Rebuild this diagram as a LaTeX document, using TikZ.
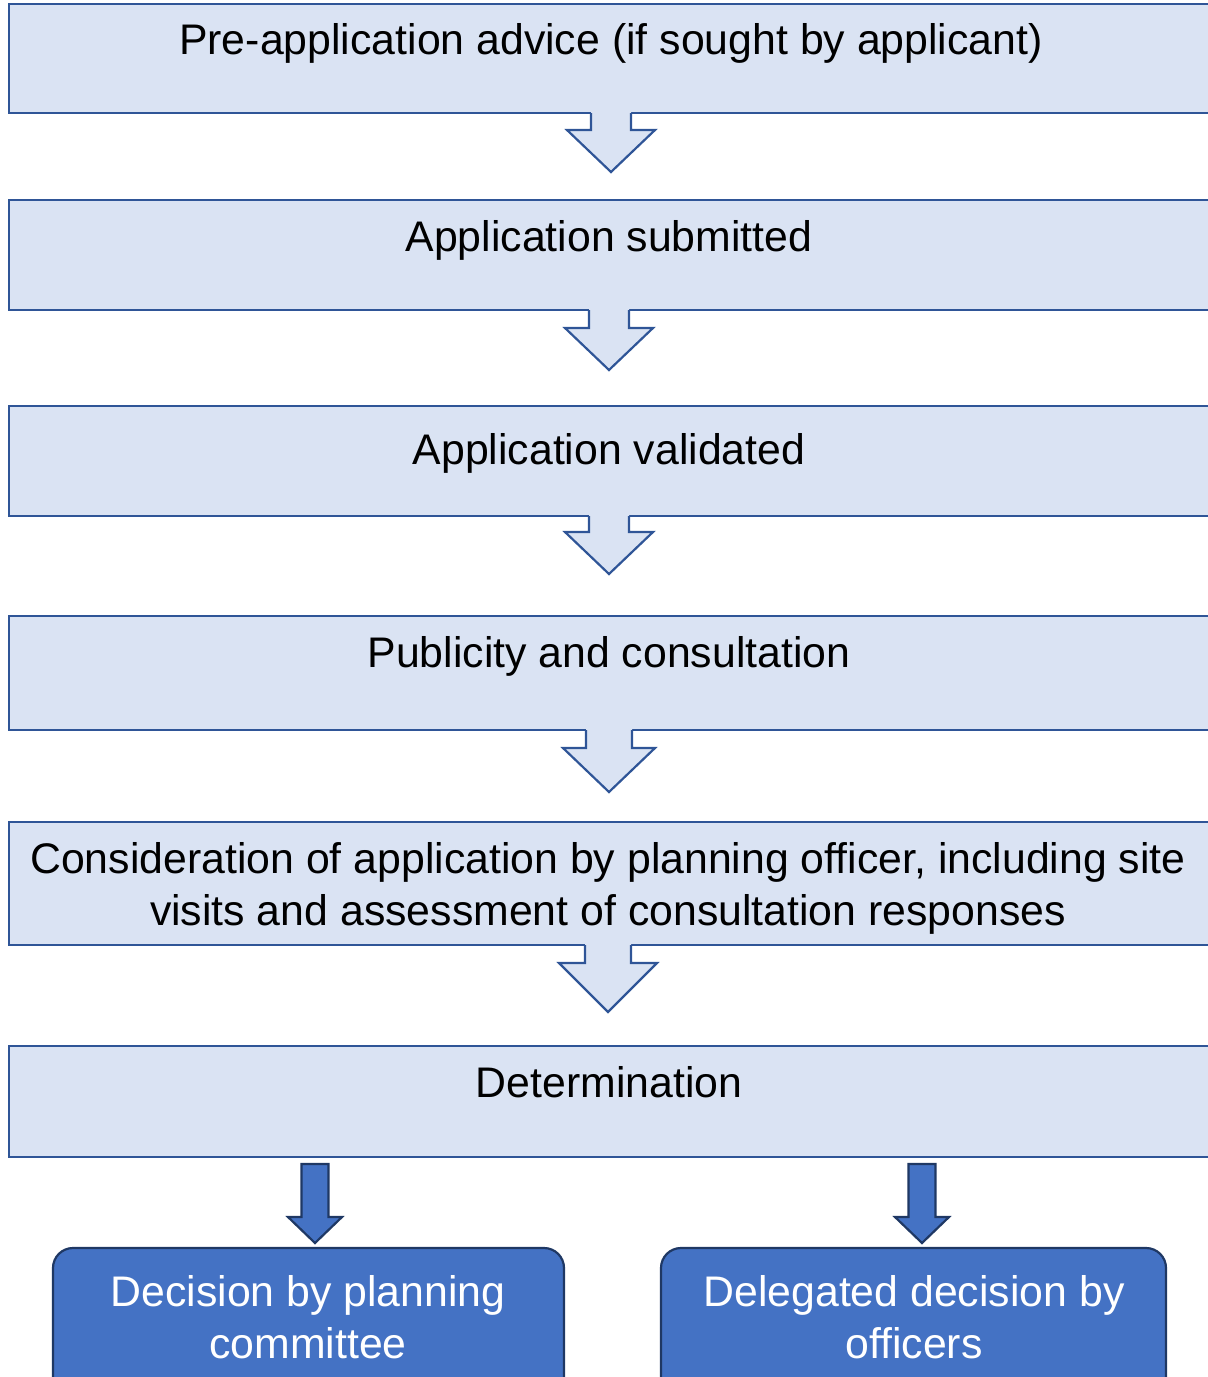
\documentclass[tikz,border=0pt]{standalone}
\usepackage{fontspec}
\setmainfont{Liberation Sans}
\definecolor{lightfill}{HTML}{DAE3F3}
\definecolor{lightline}{HTML}{2F5597}
\definecolor{darkfill}{HTML}{4472C4}
\definecolor{darkline}{HTML}{1F3864}
\tikzset{
  stagebox/.style={draw=lightline, fill=lightfill, line width=2.2pt},
  stagetext/.style={anchor=base, font=\fontsize{42.8}{53}\selectfont, text=black, inner sep=0pt},
  decbox/.style={draw=darkline, fill=darkfill, line width=2.2pt, rounded corners=20pt},
  dectext/.style={anchor=base, font=\fontsize{42.8}{53}\selectfont, text=white, inner sep=0pt},
  hollowarrow/.style={fill=lightfill},
  hollowline/.style={draw=lightline, line width=2.2pt, line join=miter},
  solidarrow/.style={draw=darkline, fill=darkfill, line width=2.2pt, line join=miter},
}
% #1 x, #2 top, #3 stem bottom, #4 tip, #5 half stem, #6 half head
\newcommand\holarrow[6]{%
  \fill[hollowarrow] (#1-#5,#2-2) -- (#1-#5,#3) -- (#1-#6,#3) -- (#1,#4) -- (#1+#6,#3) -- (#1+#5,#3) -- (#1+#5,#2-2) -- cycle;
  \draw[hollowline] (#1-#5,#2) -- (#1-#5,#3) -- (#1-#6,#3) -- (#1,#4) -- (#1+#6,#3) -- (#1+#5,#3) -- (#1+#5,#2);
}
\newcommand\solarrow[6]{%
  \draw[solidarrow] (#1-#5,#2) -- (#1-#5,#3) -- (#1-#6,#3) -- (#1,#4) -- (#1+#6,#3) -- (#1+#5,#3) -- (#1+#5,#2) -- cycle;
}
\begin{document}
\begin{tikzpicture}[x=1pt,y=-1pt]
\useasboundingbox (0,0) rectangle (1208,1377);
\clip (0,0) rectangle (1208,1377);
% stage boxes
\draw[stagebox] (9,4) rectangle (1220,113);
\draw[stagebox] (9,200) rectangle (1220,310);
\draw[stagebox] (9,406) rectangle (1220,516);
\draw[stagebox] (9,616) rectangle (1220,730);
\draw[stagebox] (9,822) rectangle (1220,945);
\draw[stagebox] (9,1046) rectangle (1220,1157);
% texts
\node[stagetext] (t1) at (611,54) {Pre-application advice (if sought by applicant)};
\node[stagetext] (t2) at (609,251) {Application submitted};
\node[stagetext] (t3) at (609,464) {Application validated};
\node[stagetext] (t4) at (609,667) {Publicity and consultation};
\node[stagetext] (t5a) at (608,873) {Consideration of application by planning officer, including site};
\node[stagetext] (t5b) at (608,925) {visits and assessment of consultation responses};
\node[stagetext] (t6) at (609,1097) {Determination};
% hollow arrows
\holarrow{611}{113}{130}{172}{20}{44}
\holarrow{609}{310}{328}{370}{20}{44}
\holarrow{609}{516}{532}{574}{20}{44}
\holarrow{609}{730}{748}{792}{23}{46}
\holarrow{608}{945}{963}{1012}{23}{49}
% solid arrows
\solarrow{315}{1164}{1217}{1243}{13.5}{27}
\solarrow{922}{1164}{1217}{1243}{13.5}{27}
% decision boxes
\draw[decbox] (53,1248) rectangle (564,1420);
\draw[decbox] (661,1248) rectangle (1166,1420);
\node[dectext] (d1a) at (308,1306) {Decision by planning};
\node[dectext] (d1b) at (308,1358) {committee};
\node[dectext] (d2a) at (914,1306) {Delegated decision by};
\node[dectext] (d2b) at (914,1358) {officers};
\end{tikzpicture}
\end{document}
